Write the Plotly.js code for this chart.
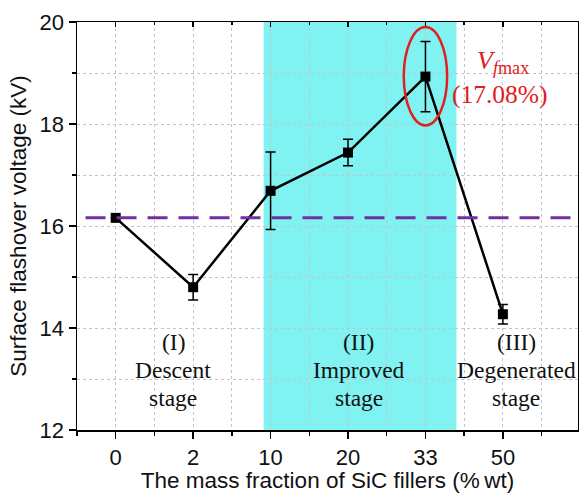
<!DOCTYPE html>
<html>
<head>
<meta charset="utf-8">
<script src="https://cdn.plot.ly/plotly-3.0.1.min.js"></script>
<style>html,body{margin:0;padding:0;background:#fff;}#chart{width:579px;height:493px;}</style>
</head>
<body>
<div id="chart"></div>
<script>
// Data
const categories = ["0", "2", "10", "20", "33", "50"];
const voltage = [16.16, 14.80, 16.69, 17.44, 18.93, 14.27];
const errors = [0.0, 0.25, 0.76, 0.26, 0.69, 0.19];
const baseline = 16.16;
const yTicks = [12, 14, 16, 18, 20];
const stageLabels = [
  {pos: 0.74, lines: ["(I)", "Descent", "stage"]},
  {pos: 3.14, lines: ["(II)", "Improved", "stage"]},
  {pos: 5.17, lines: ["(III)", "Degenerated", "stage"]}
];
const peakText = ["<i>V</i><sub><i>f</i>max</sub>", "(17.08%)"];

const xIdx = categories.map((c, i) => i);

const traces = [
  {
    x: xIdx, y: voltage, type: 'scatter', mode: 'lines+markers',
    line: {color: '#000', width: 2.5},
    marker: {symbol: 'square', size: 10, color: '#000'},
    error_y: {type: 'data', array: errors, visible: true, color: '#000', thickness: 1.5, width: 5},
    showlegend: false, hoverinfo: 'none'
  },
  {
    x: [0], y: [16], xaxis: 'x2', type: 'scatter', mode: 'markers',
    marker: {opacity: 0}, showlegend: false, hoverinfo: 'none'
  }
];

const serif = 'Liberation Serif, Times New Roman, serif';
const sans = 'Liberation Sans, Arial, sans-serif';

const lineYs = [13.73, 13.18, 12.63];
const annotations = [];
stageLabels.forEach(s => {
  s.lines.forEach((t, k) => {
    annotations.push({x: s.pos, y: lineYs[k], xref: 'x', yref: 'y', text: t, showarrow: false,
      font: {family: serif, size: 23.5, color: '#111'}, xanchor: 'center', yanchor: 'middle'});
  });
});
annotations.push({x: 5.0, y: 19.22, xref: 'x', yref: 'y', text: peakText[0], showarrow: false,
  font: {family: serif, size: 26, color: '#e02020'}, xanchor: 'center', yanchor: 'middle'});
annotations.push({x: 4.96, y: 18.57, xref: 'x', yref: 'y', text: peakText[1], showarrow: false,
  font: {family: serif, size: 25.5, color: '#e02020'}, xanchor: 'center', yanchor: 'middle'});

const xr = [-0.5, 5.97];
const layout = {
  width: 579, height: 493,
  margin: {l: 77, r: 1, t: 22, b: 63},
  paper_bgcolor: '#fff', plot_bgcolor: '#fff',
  xaxis: {
    range: xr, tickmode: 'array', tickvals: xIdx, ticktext: categories,
    showline: true, linecolor: '#000', linewidth: 1.5, mirror: true,
    ticks: 'outside', ticklen: 7, tickwidth: 1.5, tickcolor: '#000',
    tickfont: {family: sans, size: 22, color: '#111'},
    showgrid: true, gridcolor: '#c4c4c4', griddash: 'dot', gridwidth: 1,
    minor: {dtick: 0.5, tick0: 0.5, ticks: 'outside', ticklen: 4, tickcolor: '#000', tickwidth: 1.5, showgrid: true, gridcolor: '#c4c4c4', griddash: 'dot', gridwidth: 1},
    zeroline: false,
    title: {text: 'The mass fraction of SiC fillers (%\u2009wt)', font: {family: sans, size: 22.5, color: '#111'}, standoff: 4}
  },
  xaxis2: {
    range: xr, overlaying: 'x', side: 'top', anchor: 'y',
    tickmode: 'array', tickvals: xIdx, showticklabels: false,
    ticks: 'inside', ticklen: 5, tickwidth: 1.5, tickcolor: '#000',
    minor: {dtick: 0.5, tick0: 0.5, ticks: 'inside', ticklen: 3, tickcolor: '#000', tickwidth: 1.5},
    showgrid: false, zeroline: false, showline: false
  },
  yaxis: {
    range: [12, 20], tickmode: 'array', tickvals: yTicks,
    showline: true, linecolor: '#000', linewidth: 1.5, mirror: 'ticks',
    ticks: 'outside', ticklen: 7, tickwidth: 1.5, tickcolor: '#000',
    tickfont: {family: sans, size: 22, color: '#111'},
    showgrid: true, gridcolor: '#c4c4c4', griddash: 'dot', gridwidth: 1,
    minor: {dtick: 1, tick0: 13, ticks: 'outside', ticklen: 4, tickcolor: '#000', tickwidth: 1.5, showgrid: true, gridcolor: '#c4c4c4', griddash: 'dot', gridwidth: 1},
    zeroline: false,
    title: {text: 'Surface flashover voltage (kV)', font: {family: sans, size: 22.5, color: '#111'}, standoff: 6}
  },
  shapes: [
    {type: 'rect', xref: 'x', yref: 'paper', x0: 1.91, x1: 4.40, y0: 0, y1: 1,
      fillcolor: '#80f2f2', line: {width: 0}, layer: 'below'},
    {type: 'line', xref: 'x', yref: 'y', x0: -0.39, x1: xr[1], y0: baseline, y1: baseline,
      line: {color: '#7030a0', width: 3, dash: '20px,11px'}, layer: 'above'},
    {type: 'circle', xref: 'x', yref: 'y', x0: 3.72, x1: 4.28, y0: 17.97, y1: 19.9,
      line: {color: '#e02020', width: 2.5}, layer: 'above'}
  ],
  annotations: annotations
};

Plotly.newPlot('chart', traces, layout, {staticPlot: true, displayModeBar: false});
</script>
</body>
</html>
